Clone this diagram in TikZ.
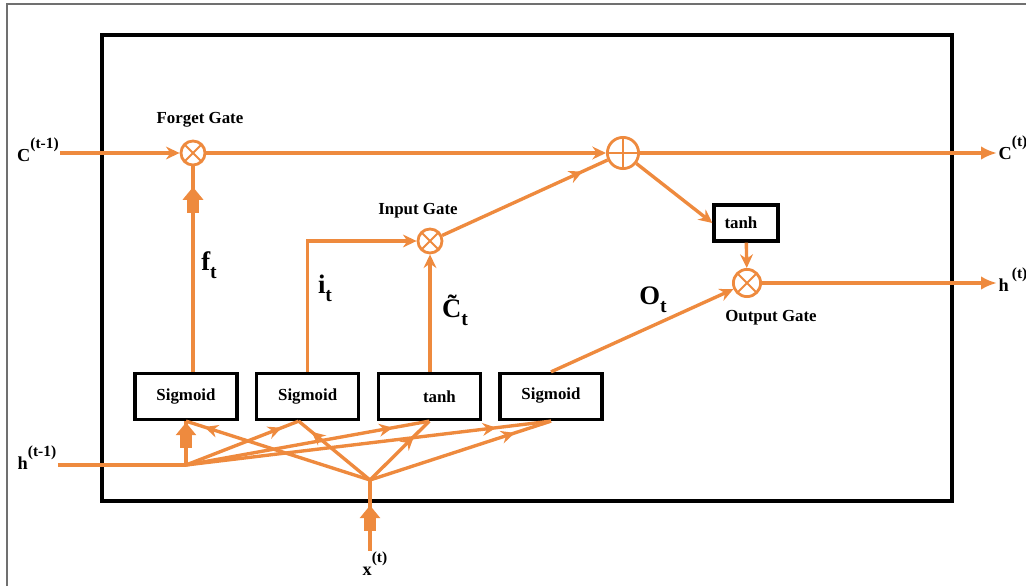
\documentclass[tikz,border=0pt]{standalone}
\usepackage{fontspec}
\setmainfont{Liberation Serif}
\usetikzlibrary{arrows.meta,positioning,calc,decorations.markings}
\definecolor{lstmorange}{HTML}{EE8A3E}
\definecolor{framegray}{HTML}{707070}
\newcommand{\lstmsup}[2]{#1\raisebox{0.7em}{\fontsize{11}{12}\selectfont #2}}
\newcommand{\lstmsub}[2]{#1\raisebox{-0.3em}{\fontsize{14}{15}\selectfont #2}}
\tikzset{
  gate/.style={
    rectangle,
    draw=black,
    fill=white,
    line width=2.3pt,
    align=center,
    minimum width=2.55cm,
    minimum height=1.15cm,
    font=\fontsize{12}{14}\selectfont\bfseries
  },
  mult/.style={
    circle,
    draw=lstmorange,
    fill=white,
    line width=2pt,
    minimum size=0.6cm,
    inner sep=0pt,
    path picture={\draw[lstmorange, line width=1.4pt]
      (path picture bounding box.north west) -- (path picture bounding box.south east)
      (path picture bounding box.north east) -- (path picture bounding box.south west);}
  },
  add/.style={
    circle,
    draw=lstmorange,
    fill=white,
    line width=2pt,
    minimum size=0.78cm,
    inner sep=0pt,
    path picture={\draw[lstmorange, line width=1.4pt]
      (path picture bounding box.north) -- (path picture bounding box.south)
      (path picture bounding box.west) -- (path picture bounding box.east);}
  },
  gatelabel/.style={font=\fontsize{12}{14}\selectfont\bfseries, inner sep=1pt},
  siglabel/.style={font=\fontsize{19}{22}\selectfont\bfseries, inner sep=1pt},
  iolabel/.style={font=\fontsize{13}{15}\selectfont\bfseries, inner sep=1pt},
  wire/.style={color=lstmorange, line width=2.4pt},
  wiretip/.style={-{Stealth[length=3.4mm,width=3.2mm]}},
  endtip/.style={-{Latex[length=4mm,width=3.4mm]}},
  midtip/.style={postaction={decorate}, decoration={markings,
    mark=at position #1 with {\arrow{Stealth[length=3.4mm,width=3.2mm]}}}},
  midtip/.default=0.85,
  bigtip/.style={postaction={decorate}, decoration={markings,
    mark=at position #1 with {\fill[lstmorange] (-6.5mm,-1.6mm) rectangle (-2.8mm,1.6mm);
      \arrow{Triangle[length=3.2mm,width=5mm]}}}}
}

\begin{document}
\begin{tikzpicture}[x=0.025cm, y=-0.025cm, node distance=0.41cm]
  \useasboundingbox (0,0) rectangle (1026,586);
  % frame and cell border
  \draw[framegray, line width=0.8pt] (7,586) -- (7,4) -- (1026,4);
  \draw[line width=2.3pt] (102,35) rectangle (952,501);

  % layers
  \node[gate] (sig1) at (186,396.5) {Sigmoid};
  \node[gate, right=of sig1] (sig2) {Sigmoid};
  \node[gate, right=of sig2] (tanh1) {\hspace{1.2em}tanh};
  \node[gate, right=of tanh1] (sig3) {\raisebox{0.3em}{Sigmoid}};
  \node[gate, minimum width=1.6cm, minimum height=0.9cm] (tanh2) at (746,223) {tanh\hspace{0.6em}};

  % pointwise ops
  \node[mult] (fg) at (193,153) {};
  \node[mult] (ig) at (430,241) {};
  \node[add] (cs) at (623,153) {};
  \node[mult, minimum size=0.68cm] (og) at (747,283) {};

  % labels
  \node[gatelabel] (fglabel) at (200,120) {Forget Gate};
  \node[gatelabel] (iglabel) at (418,211) {Input Gate};
  \node[gatelabel] (oglabel) at (771,318) {Output Gate};
  \node[siglabel] (ft) at (209,265) {\lstmsub{f}{t}};
  \node[siglabel] (it) at (325,288) {\lstmsub{i}{t}};
  \node[siglabel] (ct) at (455,310) {\lstmsub{\~{C}}{t}};
  \node[siglabel] (ot) at (653,300) {\lstmsub{O}{t}};

  % inputs and outputs
  \node[iolabel] (cprev) at (38,150) {\lstmsup{C}{(t-1)}};
  \node[iolabel] (hprev) at (37,458) {\lstmsup{h}{(t-1)}};
  \node[iolabel] (xin) at (375,564) {\lstmsup{x}{(t)}};
  \node[iolabel, anchor=west] (cnext) at (997,148) {\lstmsup{C}{(t)}};
  \node[iolabel, anchor=west] (hnext) at (997,280) {\lstmsup{h\,}{(t)}};

  \coordinate (hj) at (186,465);
  \coordinate (xj) at (370,480);
  \coordinate (sig2in) at ($(sig2.south)+(-9,0)$);

  % cell state
  \draw[wire, wiretip] (cprev.east |- fg) -- (fg);
  \draw[wire, wiretip] (fg) -- (cs);
  \draw[wire, endtip] (cs) -- (cnext.west |- cs);

  % gates into the cell state
  \draw[wire, bigtip=0.9] (fg |- sig1.north) -- (fg);
  \draw[wire, wiretip] (sig2.north) |- (ig);
  \draw[wire, wiretip] (ig |- tanh1.north) -- (ig);
  \draw[wire, midtip=0.85] (ig) -- (cs);

  % output path
  \draw[wire, wiretip] (cs) -- (tanh2.west);
  \draw[wire, wiretip] (tanh2) -- (og);
  \draw[wire, wiretip] (sig3.north) -- (og);
  \draw[wire, endtip] (og) -- (hnext.west |- og);

  % h and x fanning into the layers
  \draw[wire] (hprev.east |- hj) -- (hj);
  \draw[wire, bigtip=0.97] (hj) -- (sig1.south);
  \foreach \dest in {sig2in, tanh1.south, sig3.south}
    \draw[wire, midtip] (hj) -- (\dest);
  \draw[wire, bigtip=0.64] (xin.north -| xj) -- (xj);
  \foreach \dest/\pos in {sig1.south/0.9, sig2in/0.82, tanh1.south/0.74, sig3.south/0.8}
    \draw[wire, midtip=\pos] (xj) -- (\dest);
\end{tikzpicture}
\end{document}
